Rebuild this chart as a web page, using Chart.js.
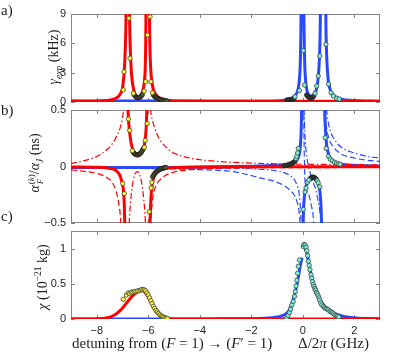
<!DOCTYPE html>
<html lang="en">
<head>
<meta charset="UTF-8">
<title>Scattering rate, polarizability and chi vs detuning</title>
<script src="https://cdn.jsdelivr.net/npm/chart.js"></script>
<style>
  body { margin: 0; background: #fff; }
  #wrap { position: relative; width: 399px; height: 356px; overflow: hidden;
          font-family: "Liberation Serif", "DejaVu Serif", serif; color: #1e1e1e; }
  #wrap canvas { position: absolute; left: 0; top: 0; }
  .lbl { position: absolute; font-size: 15px; line-height: 1; white-space: nowrap; }
  .ytitle { position: absolute; font-size: 14px; line-height: 1; white-space: nowrap;
            transform: translate(-50%, -50%) rotate(-90deg); }
  .xtitle { position: absolute; font-size: 15px; line-height: 1; white-space: nowrap; }
  sub, sup { font-size: 68%; line-height: 0; }
  .ss { display: inline-flex; flex-direction: column; font-size: 65%; line-height: 1.0;
        vertical-align: 0.55em; margin-left: 1px; }
</style>
</head>
<body>
<div id="wrap">
  <canvas id="ca" width="399" height="356"></canvas>
  <canvas id="cb" width="399" height="356"></canvas>
  <canvas id="cc" width="399" height="356"></canvas>

  <div class="lbl" style="left:1px;top:3px">a)</div>
  <div class="lbl" style="left:1px;top:103px">b)</div>
  <div class="lbl" style="left:1px;top:209px">c)</div>

  <div class="ytitle" style="left:54px;top:57px"><i>γ</i><sub><i>exp</i></sub> (kHz)</div>
  <div class="ytitle" style="left:36px;top:163px"><i>α</i><span class="ss"><span>(<i>k</i>)</span><span><i>F</i></span></span>/<i>α</i><sub><i>J</i></sub> (ns)</div>
  <div class="ytitle" style="left:43px;top:277px"><i>χ</i> (10<sup>−21</sup> kg)</div>

  <div class="xtitle" style="left:72px;top:336px">detuning from (<i>F</i> = 1) → (<i>F</i>′ = 1)</div>
  <div class="xtitle" style="left:298px;top:336px">Δ/2<i>π</i> (GHz)</div>
</div>

<script>
// ---- axis ticks ----
const xTicks = [-8, -6, -4, -2, 0, 2];
const aTicks = [0, 3, 6, 9];
const bTicks = [-0.5, 0, 0.5];
const cTicks = [0, 0.5, 1];

// ---- panel a: scattering rate (kHz) vs detuning (GHz) ----
const aRedFit = [[-9,0.07],[-8.4,0.08],[-7.9,0.11],[-7.6,0.16],[-7.4,0.24],[-7.25,0.38],[-7.15,0.58],[-7.07,0.9],
  [-7.0,1.4],[-6.96,2.3],[-6.93,3.2],[-6.91,4.3],[-6.89,5.6],[-6.875,7],[-6.865,8.5],[-6.86,9.6],
  [-6.73,9.6],[-6.725,8.5],[-6.715,7],[-6.7,5.6],[-6.68,4.3],[-6.66,3.2],[-6.63,2.3],[-6.59,1.6],[-6.55,1.1],
  [-6.5,0.75],[-6.45,0.56],[-6.4,0.5],[-6.35,0.53],[-6.3,0.65],[-6.25,0.88],[-6.2,1.3],[-6.17,1.7],[-6.14,2.4],
  [-6.12,3.2],[-6.11,4.3],[-6.1,5.6],[-6.095,7],[-6.09,8.5],[-6.088,9.6],
  [-5.952,9.6],[-5.95,8.5],[-5.945,7],[-5.935,5.6],[-5.92,4.3],[-5.9,3.2],[-5.87,2.3],[-5.83,1.6],[-5.78,1.1],
  [-5.7,0.75],[-5.6,0.48],[-5.5,0.34],[-5.35,0.22],[-5.1,0.14],[-4.7,0.1],[-4,0.08],[-2,0.07],[3,0.07]];
const aBlueFit = [[-9,0.1],[-6,0.1],[-4,0.09],[-3,0.08],[-2,0.07],[-1.5,0.08],[-1.1,0.11],[-0.8,0.16],[-0.6,0.24],
  [-0.45,0.36],[-0.35,0.52],[-0.27,0.75],[-0.21,1.05],[-0.17,1.45],[-0.14,2.0],[-0.12,2.7],[-0.1,3.6],[-0.09,4.5],
  [-0.08,5.8],[-0.072,7.2],[-0.067,8.6],[-0.064,9.6],
  [0.044,9.6],[0.047,8.6],[0.052,7.2],[0.06,5.8],[0.07,4.5],[0.08,3.6],[0.1,2.6],[0.12,1.9],[0.15,1.35],[0.19,0.95],
  [0.25,0.68],[0.32,0.58],[0.39,0.62],[0.45,0.8],[0.5,1.05],[0.54,1.4],[0.58,2.0],[0.61,2.8],[0.635,3.8],[0.655,5.0],
  [0.67,6.4],[0.68,7.8],[0.686,9.6],
  [0.894,9.6],[0.9,7.8],[0.91,6.4],[0.925,5.0],[0.945,3.8],[0.97,2.8],[1.0,2.0],[1.05,1.4],[1.12,0.95],[1.2,0.68],
  [1.35,0.42],[1.55,0.27],[1.8,0.18],[2.2,0.12],[2.6,0.09],[3,0.07]];
const aRedDots = [[-6.97,1.23],[-6.94,3.1],[-6.75,8.56],[-6.71,4.47],[-6.58,0.89],[-6.16,1.12],[-6.1,2.08],
  [-6.03,6.85],[-5.93,8.72],[-5.9,2.08],[-5.84,0.95]];
const aRedDense = [[-6.55,0.75],[-6.51,0.6],[-6.47,0.5],[-6.43,0.45],[-6.39,0.42],[-6.35,0.45],[-6.31,0.5],
  [-6.27,0.6],[-6.23,0.75],[-5.8,0.72],[-5.76,0.6],[-5.72,0.5],[-5.68,0.42],[-5.64,0.36],[-5.6,0.31],[-5.56,0.27],
  [-5.52,0.23],[-5.48,0.2],[-5.44,0.18],[-5.4,0.16],[-5.36,0.15],[-5.32,0.14],[-5.28,0.13]];
const aBlueDots = [[-0.3,0.54],[-0.13,1.16],[0.02,5.25],[0.07,1.74],[0.48,0.9],[0.54,1.64],[0.6,2.66],[0.66,4.7],
  [0.9,5.9],[1.0,1.84],[1.1,0.95],[1.19,0.61],[1.32,0.38],[1.42,0.3]];
const aBlueDense = [[-0.62,0.2],[-0.58,0.2],[-0.54,0.21],[-0.5,0.22],[-0.46,0.24],[-0.42,0.27],[-0.38,0.3],
  [-0.34,0.35],[0.15,0.72],[0.19,0.6],[0.23,0.5],[0.27,0.42],[0.31,0.4],[0.35,0.42],[0.39,0.5],[0.43,0.62]];

// ---- panel b: polarizability components (ns) ----
const bRedSolid = [[-9,-0.004],[-8,-0.007],[-7.6,-0.012],[-7.4,-0.02],[-7.25,-0.035],[-7.15,-0.06],[-7.08,-0.09],
  [-7.03,-0.13],[-6.99,-0.17],[-6.96,-0.22],[-6.94,-0.29],[-6.925,-0.38],[-6.915,-0.5],[-6.905,-0.62],null,
  [-6.8,0.62],[-6.785,0.5],[-6.77,0.42],[-6.74,0.34],[-6.7,0.26],[-6.65,0.19],[-6.58,0.14],[-6.5,0.11],[-6.42,0.1],
  [-6.35,0.1],[-6.28,0.115],[-6.21,0.14],[-6.16,0.18],[-6.12,0.24],[-6.09,0.31],[-6.07,0.4],[-6.055,0.5],[-6.045,0.62],null,
  [-5.95,-0.62],[-5.935,-0.5],[-5.92,-0.4],[-5.9,-0.3],[-5.87,-0.2],[-5.83,-0.14],[-5.78,-0.095],[-5.7,-0.06],
  [-5.6,-0.04],[-5.45,-0.025],[-5.2,-0.014],[-4.8,-0.008],[-4,-0.004],[-2,-0.002],[3,-0.002]];
const bRedDash = [[-9,-0.03],[-8.6,-0.04],[-8.2,-0.052],[-7.9,-0.068],[-7.6,-0.1],[-7.4,-0.14],[-7.25,-0.22],
  [-7.15,-0.32],[-7.08,-0.45],[-7.04,-0.62],null,
  [-5.92,-0.62],[-5.88,-0.42],[-5.82,-0.27],[-5.72,-0.18],[-5.55,-0.12],[-5.3,-0.075],[-5.0,-0.05],[-4.5,-0.032],
  [-4,-0.022],[-3,-0.015],[-1.5,-0.011],[0,-0.01],[3,-0.008]];
const bRedDashDot = [[-9,0.025],[-8.6,0.045],[-8.2,0.07],[-7.9,0.1],[-7.6,0.15],[-7.4,0.2],[-7.22,0.27],[-7.08,0.35],
  [-7.0,0.43],[-6.95,0.52],[-6.92,0.62],null,
  [-6.77,-0.62],[-6.72,-0.42],[-6.66,-0.25],[-6.58,-0.12],[-6.5,-0.06],[-6.42,-0.045],[-6.34,-0.07],[-6.26,-0.14],
  [-6.18,-0.28],[-6.12,-0.45],[-6.09,-0.62],null,
  [-5.96,0.62],[-5.9,0.48],[-5.8,0.38],[-5.67,0.29],[-5.5,0.22],[-5.3,0.17],[-5.1,0.13],[-4.8,0.1],[-4.4,0.075],
  [-4,0.06],[-3,0.04],[-2,0.03],[0,0.02],[3,0.015]];
const bBlueSolid = [[-9,-0.008],[-7,-0.009],[-5,-0.008],[-4,-0.006],[-3,-0.002],[-2,0.003],[-1.4,0.007],[-1,0.01],
  [-0.7,0.015],[-0.5,0.022],[-0.36,0.032],[-0.26,0.048],[-0.19,0.07],[-0.14,0.1],[-0.11,0.14],[-0.09,0.19],
  [-0.07,0.27],[-0.055,0.38],[-0.045,0.5],[-0.038,0.62],null,
  [0.005,-0.62],[0.015,-0.5],[0.03,-0.38],[0.06,-0.27],[0.1,-0.2],[0.16,-0.15],[0.24,-0.115],[0.32,-0.1],
  [0.4,-0.098],[0.48,-0.11],[0.55,-0.13],[0.61,-0.16],[0.66,-0.21],[0.69,-0.28],[0.71,-0.36],[0.725,-0.46],
  [0.735,-0.56],[0.74,-0.62],null,
  [0.84,0.62],[0.85,0.5],[0.87,0.38],[0.9,0.26],[0.94,0.17],[1.0,0.11],[1.08,0.07],[1.2,0.043],[1.4,0.025],
  [1.7,0.015],[2.2,0.008],[3,0.004]];
const bBlueDash = [[-9,-0.012],[-6,-0.018],[-4,-0.028],[-2.7,-0.046],[-1.67,-0.1],[-0.89,-0.15],[-0.5,-0.21],
  [-0.24,-0.3],[-0.12,-0.45],[-0.08,-0.62],null,
  [0.03,0.62],[0.06,0.1],[0.09,-0.13],[0.22,-0.24],[0.32,-0.33],[0.41,-0.45],[0.47,-0.62],null,
  [0.85,0.62],[0.9,0.4],[1.0,0.26],[1.2,0.17],[1.5,0.11],[2,0.075],[2.5,0.055],[3,0.045]];
const bBlueDashDot = [[-9,-0.004],[-4,-0.01],[-2,-0.02],[-1,-0.04],[-0.5,-0.08],[-0.25,-0.15],[-0.12,-0.28],
  [-0.06,-0.5],[-0.045,-0.62],null,
  [0.04,0.62],[0.08,0.3],[0.15,0.1],[0.25,-0.02],[0.4,-0.14],[0.5,-0.2],[0.6,-0.31],[0.68,-0.42],[0.73,-0.52],
  [0.76,-0.62],null,
  [0.88,0.62],[0.95,0.45],[1.05,0.33],[1.2,0.25],[1.5,0.17],[2,0.12],[2.5,0.09],[3,0.075]];
const bRedDots = [[-6.99,-0.15],[-6.93,-0.24],[-6.77,0.42],[-6.72,0.32],[-6.62,0.14],[-6.15,0.17],[-6.12,0.23],
  [-6.04,0.38],[-5.96,-0.4],[-5.89,-0.19],[-5.86,-0.14]];
const bRedDense = [[-6.58,0.125],[-6.54,0.115],[-6.5,0.108],[-6.46,0.104],[-6.42,0.102],[-6.38,0.105],[-6.34,0.11],
  [-6.3,0.118],[-6.26,0.13],[-6.22,0.145],[-6.19,0.16],[-5.83,-0.09],[-5.79,-0.075],[-5.75,-0.062],[-5.71,-0.052],
  [-5.67,-0.044],[-5.63,-0.037],[-5.59,-0.031],[-5.55,-0.026],[-5.51,-0.022],[-5.47,-0.018],[-5.43,-0.015],
  [-5.39,-0.012],[-5.35,-0.01],[-5.31,-0.008]];
const bBlueDots = [[-0.26,0.07],[-0.23,0.09],[-0.2,0.12],[-0.17,0.16],[0.02,-0.38],[0.09,-0.225],[0.13,-0.19],
  [0.18,-0.14],[0.24,-0.12],[0.56,-0.125],[0.6,-0.145],[0.66,-0.18],[0.87,0.255],[0.91,0.16],[1.0,0.09],[1.07,0.065],
  [1.15,0.05],[1.23,0.038],[1.31,0.03],[1.38,0.024],[1.45,0.02]];
const bBlueDense = [[-0.72,0.008],[-0.66,0.01],[-0.6,0.013],[-0.54,0.017],[-0.48,0.022],[-0.43,0.027],
  [-0.38,0.033],[-0.33,0.04],[-0.29,0.05],[0.28,-0.11],[0.32,-0.1],[0.36,-0.095],[0.4,-0.093],[0.44,-0.097],
  [0.48,-0.103],[0.52,-0.112]];

// ---- panel c: chi (1e-21 kg) ----
const cRedFit = [[-9,0],[-8.2,0.001],[-7.9,0.004],[-7.7,0.011],[-7.5,0.026],[-7.35,0.05],[-7.2,0.085],[-7.05,0.135],
  [-6.9,0.2],[-6.75,0.27],[-6.6,0.33],[-6.45,0.375],[-6.32,0.4],[-6.22,0.4],[-6.12,0.375],[-6.02,0.325],
  [-5.92,0.26],[-5.82,0.185],[-5.72,0.12],[-5.62,0.073],[-5.5,0.037],[-5.35,0.014],[-5.15,0.004],[-4.9,0.001],
  [-4.5,0],[3,0]];
const cBlueFit = [[-9,0],[-4,0.001],[-3,0.002],[-2,0.005],[-1.5,0.01],[-1.2,0.018],[-1,0.027],[-0.85,0.04],
  [-0.7,0.065],[-0.56,0.105],[-0.45,0.19],[-0.37,0.28],[-0.3,0.37],[-0.23,0.48],[-0.16,0.62],[-0.1,0.75],
  [-0.06,0.82],[-0.03,0.87],null,
  [0.09,1.0],[0.14,0.96],[0.18,0.9],[0.23,0.8],[0.3,0.67],[0.38,0.55],[0.46,0.45],[0.55,0.37],[0.65,0.29],
  [0.75,0.23],[0.87,0.17],[1.0,0.13],[1.13,0.1],[1.3,0.068],[1.52,0.043],[1.8,0.024],[2.2,0.012],[2.6,0.007],[3,0.004]];
const cRedDots = [[-6.97,0.28],[-6.85,0.34],[-6.78,0.37],[-6.72,0.36],[-6.66,0.38],[-6.6,0.38],[-6.54,0.39],
  [-6.48,0.39],[-6.42,0.4],[-6.36,0.4],[-6.3,0.41],[-6.25,0.42],[-6.2,0.42],[-6.15,0.41],[-6.1,0.4],[-6.05,0.37],
  [-6.0,0.34],[-5.95,0.3],[-5.9,0.26],[-5.85,0.22],[-5.8,0.18],[-5.75,0.15],[-5.7,0.12],[-5.65,0.1],[-5.6,0.08],
  [-5.55,0.06],[-5.5,0.045],[-5.45,0.035],[-5.4,0.025],[-5.35,0.018],[-5.3,0.012],[-5.25,0.008]];
const cBlueDots = [[-0.62,0.02],[-0.57,0.05],[-0.52,0.09],[-0.47,0.14],[-0.42,0.2],[-0.37,0.25],[-0.32,0.32],
  [-0.29,0.39],[-0.26,0.47],[-0.23,0.55],[-0.2,0.65],[-0.17,0.75],[-0.13,0.84],[0.02,1.03],[0.05,1.06],[0.09,1.05],
  [0.13,1.02],[0.16,0.97],[0.19,0.9],[0.22,0.82],[0.25,0.76],[0.28,0.7],[0.32,0.63],[0.35,0.58],[0.38,0.53],
  [0.41,0.49],[0.44,0.46],[0.47,0.43],[0.5,0.41],[0.53,0.38],[0.56,0.36],[0.6,0.33],[0.63,0.3],[0.66,0.27],
  [0.7,0.23],[0.74,0.2],[0.8,0.18],[0.85,0.16],[0.9,0.15],[0.95,0.14],[1.0,0.13],[1.05,0.11],[1.1,0.1],
  [1.15,0.09],[1.2,0.075],[1.25,0.06],[1.3,0.05],[1.35,0.04],[1.4,0.03]];

// ---- styling ----
const RED = '#ff0000';
const BLUE = '#2a48ff';
const YELLOW = '#f4f43c';
const CYAN = '#7cefd5';
const DASH = [6, 3];
const DASHDOT = [6, 2.5, 1.5, 2.5];

Chart.defaults.font.family = '"Liberation Sans", Arial, sans-serif';
Chart.defaults.font.size = 11;
Chart.defaults.color = '#1e1e1e';

const pts = arr => arr.map(p => p ? { x: p[0], y: p[1] } : { x: null, y: null });
const fmt = v => (v < 0 ? '\u2212' : '') + Math.abs(v);

function curve(data, color, width, dash) {
  return { data: pts(data), borderColor: color, borderWidth: width, borderDash: dash || [],
           pointRadius: 0, fill: false, cubicInterpolationMode: 'monotone' };
}
function dots(data, fill, edge) {
  return { data: pts(data), showLine: false, pointRadius: 2.2, pointBorderWidth: 0.7,
           pointBackgroundColor: fill, pointBorderColor: edge || '#333333' };
}

// box and inward tick marks, MATLAB style
const framePlugin = {
  id: 'frame',
  beforeDatasetsDraw(chart, args, opts) {
    const { ctx, chartArea: a, scales } = chart;
    ctx.save();
    ctx.strokeStyle = '#858585';
    ctx.lineWidth = 1;
    ctx.strokeRect(a.left + 0.5, a.top + 0.5, a.right - a.left - 1, a.bottom - a.top - 1);
    ctx.beginPath();
    xTicks.forEach(v => {
      const px = Math.round(scales.x.getPixelForValue(v)) + 0.5;
      ctx.moveTo(px, a.top); ctx.lineTo(px, a.top + 4);
      ctx.moveTo(px, a.bottom); ctx.lineTo(px, a.bottom - 4);
    });
    opts.yTicks.forEach(v => {
      const py = Math.round(scales.y.getPixelForValue(v)) + 0.5;
      ctx.moveTo(a.left, py); ctx.lineTo(a.left + 4, py);
      ctx.moveTo(a.right, py); ctx.lineTo(a.right - 4, py);
    });
    ctx.stroke();
    ctx.restore();
  }
};

function makePanel(id, top, bottom, yMin, yMax, yTicks, datasets, showX) {
  const xAxisH = showX ? 356 - bottom : 0;
  return new Chart(document.getElementById(id), {
    type: 'line',
    data: { datasets },
    options: {
      responsive: false,
      animation: false,
      events: [],
      layout: { padding: { top: top, right: 19, bottom: showX ? 0 : 356 - bottom, left: 0 } },
      scales: {
        x: {
          type: 'linear', min: -9, max: 3,
          afterFit: s => { s.height = xAxisH; },
          afterBuildTicks: s => { s.ticks = xTicks.map(v => ({ value: v })); },
          grid: { display: false, drawTicks: false },
          border: { display: false },
          ticks: { display: showX, padding: 5, maxRotation: 0, autoSkip: false, callback: fmt }
        },
        y: {
          type: 'linear', min: yMin, max: yMax,
          afterFit: s => { s.width = 71; },
          afterBuildTicks: s => { s.ticks = yTicks.map(v => ({ value: v })); },
          grid: { display: false, drawTicks: false },
          border: { display: false },
          ticks: { padding: 5, autoSkip: false, callback: fmt }
        }
      },
      plugins: { legend: { display: false }, tooltip: { enabled: false }, frame: { yTicks } }
    },
    plugins: [framePlugin]
  });
}

makePanel('ca', 14, 102, 0, 9, aTicks, [
  dots(aRedDots, YELLOW),
  dots(aBlueDots, CYAN),
  dots(aRedDense, '#57572e', '#1c1c1c'),
  dots(aBlueDense, '#34433d', '#1c1c1c'),
  curve(aRedFit, RED, 3),
  curve(aBlueFit, BLUE, 3)
], false);

makePanel('cb', 110, 223, -0.5, 0.5, bTicks, [
  dots(bRedDots, YELLOW),
  dots(bBlueDots, CYAN),
  dots(bRedDense, '#57572e', '#1c1c1c'),
  dots(bBlueDense, '#34433d', '#1c1c1c'),
  curve(bRedSolid, RED, 3),
  curve(bRedDash, RED, 1.2, DASH),
  curve(bRedDashDot, RED, 1.2, DASHDOT),
  curve(bBlueSolid, BLUE, 3),
  curve(bBlueDash, BLUE, 1.2, DASH),
  curve(bBlueDashDot, BLUE, 1.2, DASHDOT)
], false);

makePanel('cc', 231, 319, 0, 1.25, cTicks, [
  dots(cRedDots, YELLOW),
  dots(cBlueDots, CYAN),
  curve(cRedFit, RED, 3),
  curve(cBlueFit, BLUE, 3)
], true);
</script>
</body>
</html>
